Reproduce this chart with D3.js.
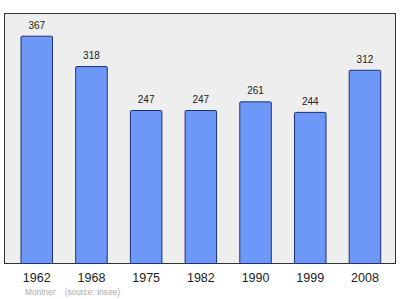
<!DOCTYPE html>
<html><head><meta charset="utf-8">
<script src="https://cdn.jsdelivr.net/npm/d3@7"></script>
<style>body{margin:0;background:#fff}svg{display:block}</style>
</head><body>
<script>
const years = ["1962","1968","1975","1982","1990","1999","2008"];
const population = [367,318,247,247,261,244,312];
const caption = "Montner    (source: Insee)";

const W=400,H=299;
const svg=d3.select("body").append("svg").attr("width",W).attr("height",H);
const pL=4.5,pR=395.5,pT=13.5,pB=263.5;
const xs=d3.scaleBand().domain(years).range([9.4,392.3]).paddingInner(0.424).paddingOuter(0.212);
const y=d3.scaleLinear().domain([0,367*1.1]).range([pB,pT]);

svg.append("rect").attr("x",pL).attr("y",pT).attr("width",pR-pL).attr("height",pB-pT)
  .attr("fill","#eeeeee").attr("stroke","#333").attr("stroke-width",1);

svg.selectAll("rect.bar").data(population).join("rect").attr("class","bar")
  .attr("x",(d,i)=>xs(years[i])).attr("width",xs.bandwidth())
  .attr("y",d=>y(d)).attr("height",d=>pB-y(d))
  .attr("fill","#6e98f8").attr("stroke","#1c3170").attr("stroke-width",1).attr("rx",1);

svg.selectAll("text.val").data(population).join("text").attr("class","val")
  .attr("x",(d,i)=>xs(years[i])+xs.bandwidth()/2).attr("y",d=>y(d)-7.5)
  .attr("text-anchor","middle").attr("font-family","Liberation Sans, Arial, sans-serif")
  .attr("font-size",10).attr("fill","#222").text(d=>d);

const ax=svg.append("g").attr("transform",`translate(0,${pB})`)
  .call(d3.axisBottom(xs).tickSize(0).tickPadding(10));
ax.select(".domain").remove();
ax.selectAll("text").attr("font-family","Liberation Sans, Arial, sans-serif").attr("font-size",12.5).attr("fill","#222");

svg.append("text").attr("x",25).attr("y",294.5).attr("font-family","Liberation Sans, Arial, sans-serif")
  .attr("font-size",8.3).attr("fill","#aaa").style("white-space","pre").text(caption);
</script>
</body></html>
